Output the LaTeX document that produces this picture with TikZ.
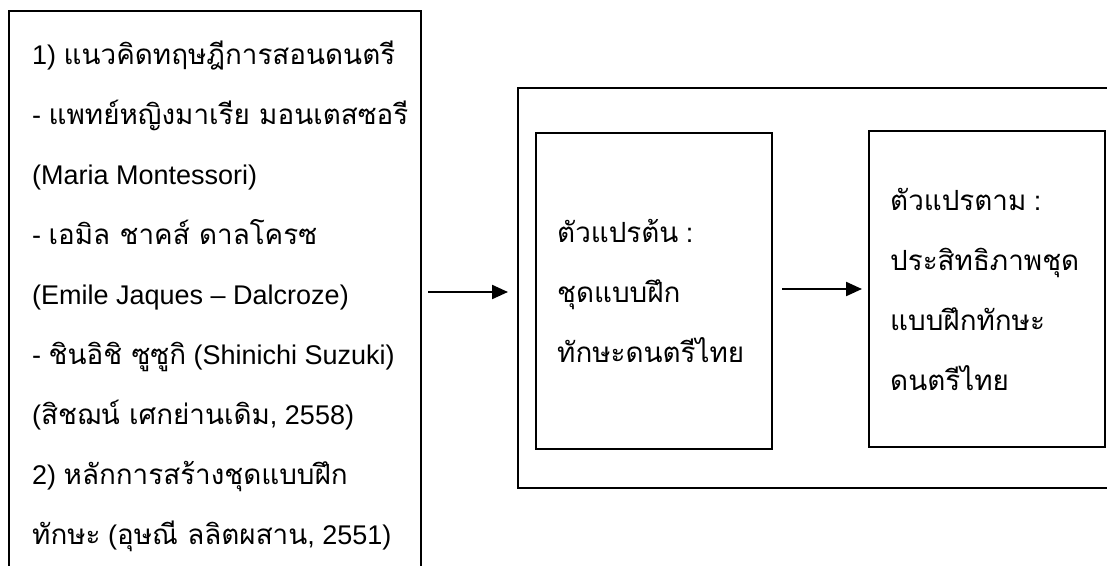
\documentclass[tikz,border=0pt]{standalone}
\usepackage{fontspec}
\setmainfont{Liberation Sans}
\newfontfamily\thaifont[Script=Thai,Scale=1.03]{Loma}
\newcommand\tf[1]{{\thaifont #1}}
\usetikzlibrary{arrows.meta}
\begin{document}
\begin{tikzpicture}[x=1pt,y=-1pt,
  box/.style={draw, line width=2.8pt, inner sep=0pt, outer sep=0pt, anchor=north west},
  txt/.style={anchor=base west, inner sep=0pt, font=\fontsize{27}{32}\selectfont},
  arr/.style={line width=2.2pt, -{Triangle[length=16pt,width=14pt]}}]
\useasboundingbox (0,0) rectangle (1107,565);
\clip (0,0) rectangle (1107,565);
\fill[white] (0,0) rectangle (1107,565);
% boxes
\node[box, minimum width=412pt, minimum height=600pt] (src) at (9,11) {};
\node[box, minimum width=640pt, minimum height=400pt] (outer) at (518,88) {};
\node[box, minimum width=236pt, minimum height=316pt] (iv) at (536,133) {};
\node[box, minimum width=236pt, minimum height=316pt] (dv) at (869,131) {};
% left text
\node[txt] (l1) at (32,64)  {1) \tf{แนวคิดทฤษฎีการสอนดนตรี}};
\node[txt] (l2) at (32,124) {- \tf{แพทย์หญิงมาเรีย มอนเตสซอรี}};
\node[txt] (l3) at (32,184) {(Maria Montessori)};
\node[txt] (l4) at (32,244) {- \tf{เอมิล ชาคส์ ดาลโครซ}};
\node[txt] (l5) at (32,304) {(Emile Jaques – Dalcroze)};
\node[txt] (l6) at (32,364) {- \tf{ชินอิชิ ซูซูกิ} (Shinichi Suzuki)};
\node[txt] (l7) at (32,424) {(\tf{สิชฌน์ เศกย่านเดิม}, 2558)};
\node[txt] (l8) at (32,484) {2) \tf{หลักการสร้างชุดแบบฝึก}};
\node[txt] (l9) at (32,544) {\tf{ทักษะ} (\tf{อุษณี ลลิตผสาน}, 2551)};
% middle text
\node[txt] (m1) at (557,242) {\tf{ตัวแปรต้น} :};
\node[txt] (m2) at (557,302) {\tf{ชุดแบบฝึก}};
\node[txt] (m3) at (557,362) {\tf{ทักษะดนตรีไทย}};
% right text
\node[txt] (r1) at (890,210) {\tf{ตัวแปรตาม} :};
\node[txt] (r2) at (890,270) {\tf{ประสิทธิภาพชุด}};
\node[txt] (r3) at (890,330) {\tf{แบบฝึกทักษะ}};
\node[txt] (r4) at (890,390) {\tf{ดนตรีไทย}};
% arrows
\draw[arr, shorten <=7pt, shorten >=10pt] (src.east |- 0,292) -- (outer.west |- 0,292);
\draw[arr, shorten <=10pt, shorten >=7pt] (iv.east |- 0,289) -- (dv.west |- 0,289);
\end{tikzpicture}
\end{document}
